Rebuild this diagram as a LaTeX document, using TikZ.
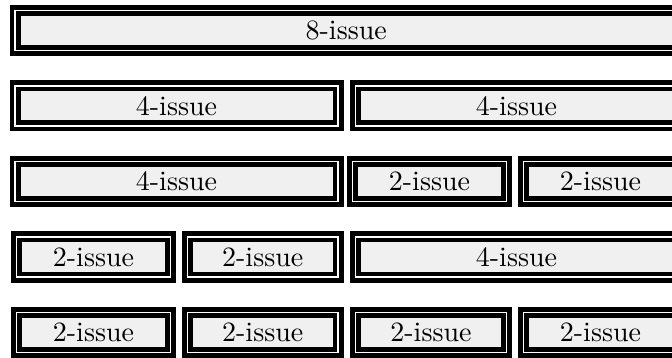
\documentclass[tikz,border=0pt]{standalone}
\definecolor{boxgray}{HTML}{F0F0F0}
\tikzset{
  ibox/.style={draw=black, line width=4.8pt, double=white, double distance=1.4pt,
    fill=boxgray, inner sep=0pt, outer sep=0pt,
    font=\fontsize{10}{12}\selectfont}
}
\newcommand\issuebox[6]{%
  \node[ibox, minimum width={(#3)-(#2)-11}, minimum height={(#5)-(#4)-11}]
    (#1) at ({(#2+#3)/2},{(#4+#5)/2}) {\scalebox{2.8}{#6}};}
\begin{document}
\begin{tikzpicture}[x=1pt,y=-1pt]
\useasboundingbox (0,0) rectangle (672,358);
\clip (0,0) rectangle (672,358);
% row 1
\issuebox{a}{9.5}{683}{5}{56}{8-issue}
% row 2
\issuebox{b1}{9.5}{343.5}{80.5}{131.5}{4-issue}
\issuebox{b2}{350}{683}{80.5}{131.5}{4-issue}
% row 3
\issuebox{c1}{9.5}{343.5}{156}{207}{4-issue}
\issuebox{c2}{347}{512}{156}{207}{2-issue}
\issuebox{c3}{518}{683}{156}{207}{2-issue}
% row 4
\issuebox{d1}{11}{176}{231.5}{282.5}{2-issue}
\issuebox{d2}{182}{343.5}{231.5}{282.5}{2-issue}
\issuebox{d3}{350}{683}{231.5}{282.5}{4-issue}
% row 5
\issuebox{e1}{11}{176}{307}{358}{2-issue}
\issuebox{e2}{182}{343.5}{307}{358}{2-issue}
\issuebox{e3}{350}{512}{307}{358}{2-issue}
\issuebox{e4}{518}{683}{307}{358}{2-issue}
\end{tikzpicture}
\end{document}
